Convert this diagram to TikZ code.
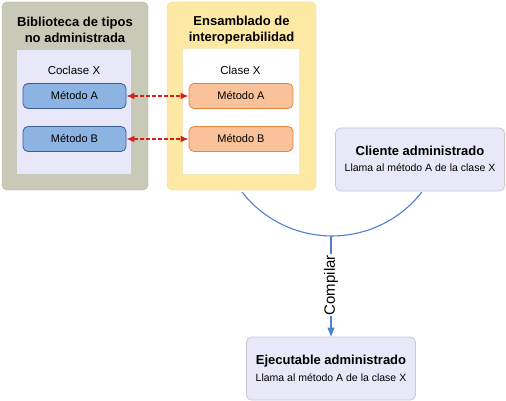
\documentclass[tikz,border=0pt]{standalone}
\usepackage{fontspec}
\setmainfont{Liberation Sans}
\usetikzlibrary{arrows.meta}
\definecolor{grayout}{HTML}{C9C9B8}
\definecolor{grayborder}{HTML}{B5B5A5}
\definecolor{lav}{HTML}{E8E8F8}
\definecolor{lavborder}{HTML}{C8C8DA}
\definecolor{bluem}{HTML}{8DB3E2}
\definecolor{bluemb}{HTML}{3B5C99}
\definecolor{yel}{HTML}{FDE8A4}
\definecolor{yelb}{HTML}{F2D88A}
\definecolor{orm}{HTML}{F9C29A}
\definecolor{ormb}{HTML}{E8843A}
\definecolor{arcblue}{HTML}{4F81D0}
\definecolor{redd}{HTML}{D42020}
\tikzset{
  outerbox/.style={rounded corners=5pt, inner sep=0pt},
  methodbox/.style={rounded corners=5pt, draw, line width=0.8pt, inner sep=0pt, font=\fontsize{11}{13}\selectfont},
  mgrbox/.style={rounded corners=5pt, draw=lavborder, fill=lav, line width=0.8pt, inner sep=0pt},
  title/.style={font=\bfseries\fontsize{13}{16}\selectfont, align=center},
  sub/.style={font=\fontsize{10.5}{12}\selectfont},
  lbl/.style={font=\fontsize{11.5}{13}\selectfont},
  link/.style={draw=redd, dash pattern=on 4pt off 2pt, line width=1.8pt, {Latex[length=8pt,width=7pt]}-{Latex[length=8pt,width=7pt]}},
}
\begin{document}
\begin{tikzpicture}[x=1pt,y=-1pt]
\useasboundingbox (0,0) rectangle (506,401);
\fill[white] (0,0) rectangle (506,401);
% arc behind boxes
\coordinate (arcl) at (242,192);
\coordinate (arcb) at (331,236);
\draw[arcblue, line width=1.1pt] (arcl) arc[start angle=217.9, end angle=322.1, radius=114pt];
% left outer
\node[outerbox, fill=grayout, draw=grayborder, minimum width=146pt, minimum height=188pt] (lib) at (75,96) {};
\node[fill=lav, inner sep=0pt, minimum width=114pt, minimum height=124pt] (libin) at (74,112) {};
\node[title] (libt) at (75,30) {Biblioteca de tipos\\no administrada};
\node[lbl] (cocl) at (74,70) {Coclase X};
\node[methodbox, fill=bluem, draw=bluemb, minimum width=103pt, minimum height=25pt] (ba) at (74.5,96) {Método A};
\node[methodbox, fill=bluem, draw=bluemb, minimum width=103pt, minimum height=25pt] (bb) at (74.5,139) {Método B};
% middle outer
\node[outerbox, fill=yel, draw=yelb, minimum width=149pt, minimum height=188pt] (asm) at (241.5,96) {};
\node[fill=white, draw=yelb!60, inner sep=0pt, minimum width=117pt, minimum height=126pt] (asmin) at (240.5,111) {};
\node[title] (asmt) at (241.5,30) {Ensamblado de\\interoperabilidad};
\node[lbl] (cls) at (240.5,70) {Clase X};
\node[methodbox, fill=orm, draw=ormb, minimum width=104pt, minimum height=25pt] (oa) at (241,96) {Método A};
\node[methodbox, fill=orm, draw=ormb, minimum width=104pt, minimum height=25pt] (ob) at (241,139) {Método B};
% links
\draw[link] (ba.east) -- (oa.west);
\draw[link] (bb.east) -- (ob.west);
% client
\node[mgrbox, minimum width=169pt, minimum height=63pt] (cli) at (420,159.5) {};
\node[title] (clit) at (420,151) {Cliente administrado};
\node[sub] (clis) at (420,168) {Llama al método A de la clase X};
% executable
\node[mgrbox, minimum width=169pt, minimum height=63pt] (exe) at (331,368.5) {};
\node[title] (exet) at (331,361) {Ejecutable administrado};
\node[sub] (exes) at (331,378) {Llama al método A de la clase X};
% compile arrow
\draw[arcblue, line width=1.1pt, -{Triangle[length=9pt,width=7pt]}] (arcb) -- (exe.north)
  node[pos=0.49, rotate=90, fill=white, text=black, inner sep=1pt, font=\fontsize{15}{17}\selectfont] (comp) {Compilar};
\end{tikzpicture}
\end{document}
